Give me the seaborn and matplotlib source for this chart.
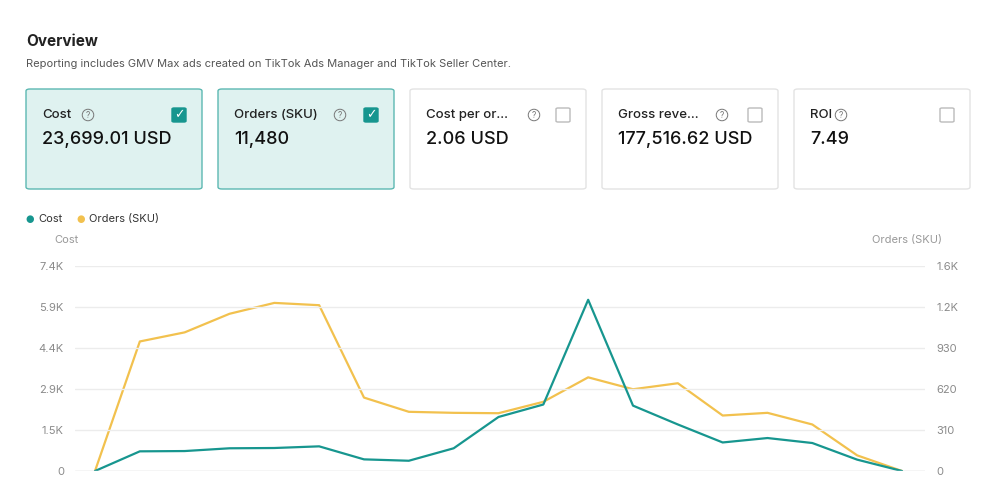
import numpy as np
import pandas as pd
import matplotlib
matplotlib.use("Agg")
import matplotlib.pyplot as plt
import seaborn as sns
from matplotlib.patches import FancyBboxPatch

# data
days = list(range(19))
cost = [0, 710, 720, 820, 830, 890, 420, 370, 820, 1950, 2400, 6180,
        2360, 1680, 1030, 1190, 1010, 410, 0]
orders = [0, 1011, 1082, 1227, 1312, 1294, 573, 462, 454, 451, 540, 731,
          638, 685, 433, 454, 363, 122, 0]
cost_tick_labels = ["0", "1.5K", "2.9K", "4.4K", "5.9K", "7.4K"]
order_tick_labels = ["0", "310", "620", "930", "1.2K", "1.6K"]

card_titles = ["Cost", "Orders (SKU)", "Cost per or...", "Gross reve...", "ROI"]
card_values = ["23,699.01 USD", "11,480", "2.06 USD", "177,516.62 USD", "7.49"]
card_selected = [True, True, False, False, False]

TEAL = "#17968f"
YELLOW = "#f2c14e"
GREY = "#8a8a8a"

sns.set_theme(style="white")
plt.rcParams['font.family'] = ['Inter', 'DejaVu Sans']

fig = plt.figure(figsize=(10, 5), dpi=100)
W, H = 1000, 500

def fx(px):
    return px / W

def fy(py):
    return 1 - py / H

fig.text(fx(26), fy(41), "Overview", fontsize=11, fontweight="bold", color="#222222", va="center")
fig.text(fx(26), fy(64), "Reporting includes GMV Max ads created on TikTok Ads Manager and TikTok Seller Center.",
         fontsize=8, color="#555555", va="center")

# metric cards; help icon offsets roughly follow title width
help_dx = [46, 106, 108, 104, 31]
card_x = [26, 218, 410, 602, 794]
for x0, title, val, sel, hdx in zip(card_x, card_titles, card_values, card_selected, help_dx):
    box = FancyBboxPatch((fx(x0), fy(189)), fx(176), 100 / H,
                         boxstyle="round,pad=0,rounding_size=0.004",
                         transform=fig.transFigure,
                         facecolor="#dff2f0" if sel else "white",
                         edgecolor="#5cb8b2" if sel else "#e3e3e3", linewidth=1)
    fig.patches.append(box)
    fig.text(fx(x0 + 16), fy(115), title, fontsize=9.5, color="#222222", va="center", fontweight="medium")
    fig.text(fx(x0 + 16 + hdx), fy(115), "?", fontsize=6, color="#777777", ha="center", va="center",
             bbox=dict(boxstyle="circle,pad=0.15", facecolor="none", edgecolor="#777777", linewidth=0.7))
    fig.text(fx(x0 + 16), fy(139), val, fontsize=13, color="#111111", va="center", fontweight="medium")
    cb = FancyBboxPatch((fx(x0 + 146), fy(122)), fx(14), 14 / H,
                        boxstyle="round,pad=0,rounding_size=0.002",
                        transform=fig.transFigure,
                        facecolor=TEAL if sel else "white",
                        edgecolor=TEAL if sel else "#bbbbbb", linewidth=1)
    fig.patches.append(cb)
    if sel:
        fig.text(fx(x0 + 153), fy(115), "✓", fontsize=9, color="white", ha="center", va="center",
                 family=['DejaVu Sans'])

# legend
fig.text(fx(30), fy(219), "●", fontsize=7, color=TEAL, ha="center", va="center", family=['DejaVu Sans'])
fig.text(fx(38), fy(219), "Cost", fontsize=8, color="#333333", va="center")
fig.text(fx(81), fy(219), "●", fontsize=7, color=YELLOW, ha="center", va="center", family=['DejaVu Sans'])
fig.text(fx(89), fy(219), "Orders (SKU)", fontsize=8, color="#333333", va="center")
fig.text(fx(54), fy(240), "Cost", fontsize=8, color="#999999", va="center")
fig.text(fx(942), fy(240), "Orders (SKU)", fontsize=8, color="#999999", va="center", ha="right")

# chart
ax = fig.add_axes([fx(75), fy(471), fx(850), 205 / H])
df = pd.DataFrame({"day": days, "cost": cost, "orders": orders})
sns.lineplot(data=df, x="day", y="cost", ax=ax, color=TEAL, linewidth=1.6)
ax2 = ax.twinx()
sns.lineplot(data=df, x="day", y="orders", ax=ax2, color=YELLOW, linewidth=1.6)

ax.set_xlim(-20 / 44.83, 18 + 23 / 44.83)
ax.set_ylim(0, 7400)
ax2.set_ylim(0, 1600)
# both axes use five even steps, labels are rounded
ax.set_yticks(np.linspace(0, 7400, 6))
ax.set_yticklabels(cost_tick_labels)
ax2.set_yticks(np.linspace(0, 1600, 6))
ax2.set_yticklabels(order_tick_labels)
ax.set_xticks(days)
ax.set_xticklabels([])
for a in (ax, ax2):
    a.set_xlabel("")
    a.set_ylabel("")
    for s in a.spines.values():
        s.set_visible(False)
    a.tick_params(axis="y", length=0, labelsize=8, labelcolor=GREY, pad=8)
ax.tick_params(axis="x", length=5, color="#cccccc", direction="out")
ax.yaxis.grid(True, color="#ececec", linewidth=1)
ax.set_axisbelow(True)
ax.axhline(0, color="#dddddd", linewidth=1)
ax2.set_zorder(ax.get_zorder() - 1)
ax.patch.set_visible(False)

fig.savefig("out.png", dpi=100)
